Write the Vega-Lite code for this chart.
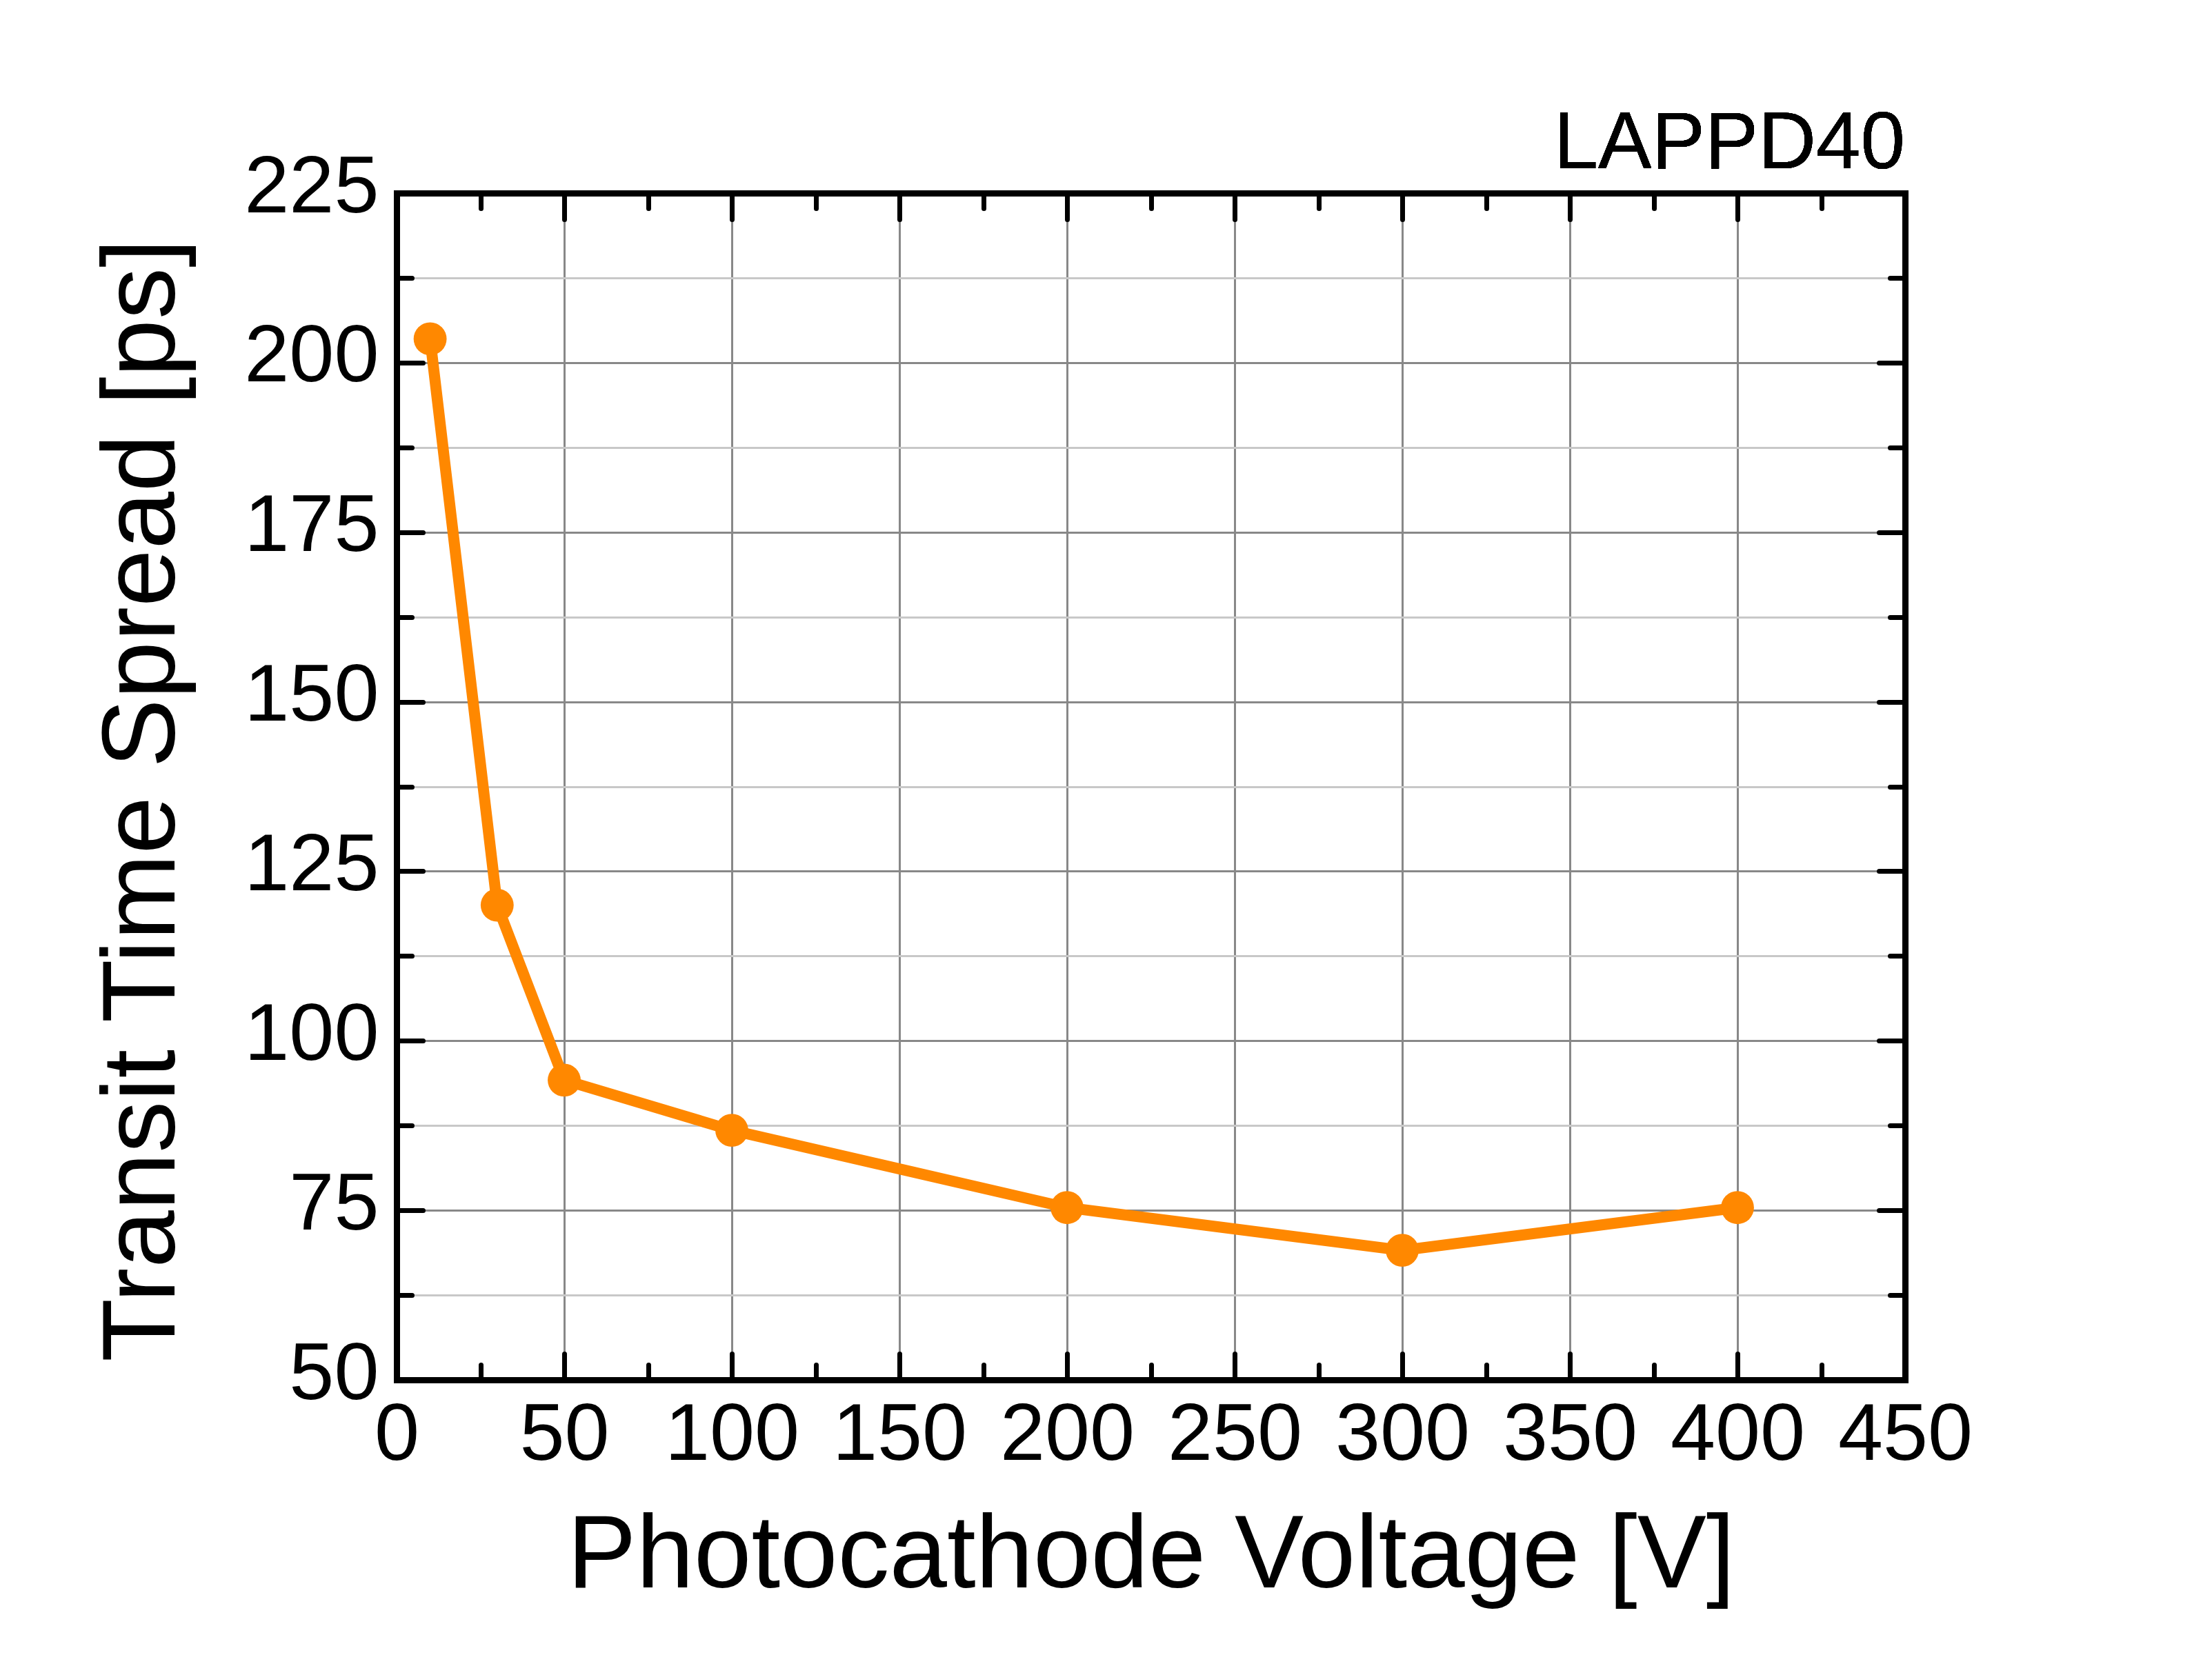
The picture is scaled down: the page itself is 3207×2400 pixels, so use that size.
{
  "$schema": "https://vega.github.io/schema/vega-lite/v6.json",
  "width": 2187,
  "height": 1721,
  "autosize": "none",
  "padding": {"left": 575, "top": 280, "right": 445, "bottom": 399},
  "background": "white",
  "config": {
    "view": {"stroke": null},
    "font": "Liberation Sans"
  },
  "data": {
    "values": [
      {"voltage": 10, "tts": 203.5},
      {"voltage": 30, "tts": 120},
      {"voltage": 50, "tts": 94.2},
      {"voltage": 100, "tts": 86.8},
      {"voltage": 200, "tts": 75.4},
      {"voltage": 300, "tts": 69.1},
      {"voltage": 400, "tts": 75.4}
    ]
  },
  "layer": [
    {
      "mark": {"type": "line", "color": "#FF8800", "strokeWidth": 16},
      "encoding": {
        "x": {
          "field": "voltage",
          "type": "quantitative",
          "scale": {"domain": [0, 450], "nice": false, "zero": false},
          "axis": {
            "orient": "bottom",
            "values": [0, 25, 50, 75, 100, 125, 150, 175, 200, 225, 250, 275, 300, 325, 350, 375, 400, 425, 450],
            "title": "Photocathode Voltage [V]",
            "titleFont": "Liberation Sans",
            "titleFontSize": 150,
            "titleFontWeight": "normal",
            "titleColor": "black",
            "titleBaseline": "alphabetic",
            "titleAlign": "center",
            "titleX": 1093.5,
            "titleY": 300,
            "labelExpr": "datum.value % 50 == 0 ? datum.label : ''",
            "labelFont": "Liberation Sans",
            "labelFontSize": 117,
            "labelColor": "black",
            "labelPadding": 61,
            "labelLimit": 0,
            "labelOverlap": false,
            "labelFlush": false,
            "domainColor": "black",
            "domainWidth": 9,
            "domainCap": "square",
            "tickColor": "black",
            "tickWidth": 7,
            "tickCap": "round",
            "tickSize": {"condition": {"test": "datum.value % 50 == 0", "value": -38}, "value": -22},
            "grid": true,
            "gridColor": "#888888",
            "gridWidth": 3,
            "gridOpacity": {"condition": {"test": "datum.value % 50 == 0", "value": 1}, "value": 0}
          }
        },
        "y": {
          "field": "tts",
          "type": "quantitative",
          "scale": {"domain": [50, 225], "nice": false, "zero": false},
          "axis": {
            "orient": "left",
            "values": [50, 62.5, 75, 87.5, 100, 112.5, 125, 137.5, 150, 162.5, 175, 187.5, 200, 212.5, 225],
            "title": "Transit Time Spread [ps]",
            "titleFont": "Liberation Sans",
            "titleFontSize": 150,
            "titleFontWeight": "normal",
            "titleColor": "black",
            "titleAngle": -90,
            "titleBaseline": "alphabetic",
            "titleAlign": "center",
            "titleX": -323,
            "titleY": 880,
            "labelExpr": "datum.value % 25 == 0 ? datum.label : ''",
            "labelFont": "Liberation Sans",
            "labelFontSize": 117,
            "labelColor": "black",
            "labelPadding": 64,
            "labelOffset": -8,
            "labelLimit": 0,
            "labelOverlap": false,
            "labelFlush": false,
            "domainColor": "black",
            "domainWidth": 9,
            "domainCap": "square",
            "tickColor": "black",
            "tickWidth": 7,
            "tickCap": "round",
            "tickSize": {"condition": {"test": "datum.value % 25 == 0", "value": -38}, "value": -22},
            "grid": true,
            "gridWidth": 3,
            "gridColor": {"condition": {"test": "datum.value % 25 == 0", "value": "#888888"}, "value": "#c8c8c8"}
          }
        }
      }
    },
    {
      "mark": {"type": "point", "filled": true, "color": "#FF8800", "size": 2290, "opacity": 1},
      "encoding": {
        "x": {
          "field": "voltage",
          "type": "quantitative",
          "axis": {
            "orient": "top",
            "values": [0, 25, 50, 75, 100, 125, 150, 175, 200, 225, 250, 275, 300, 325, 350, 375, 400, 425, 450],
            "title": null,
            "labels": false,
            "grid": false,
            "domainColor": "black",
            "domainWidth": 9,
            "domainCap": "square",
            "tickColor": "black",
            "tickWidth": 7,
            "tickCap": "round",
            "tickSize": {"condition": {"test": "datum.value % 50 == 0", "value": -38}, "value": -22}
          }
        },
        "y": {
          "field": "tts",
          "type": "quantitative",
          "axis": {
            "orient": "right",
            "values": [50, 62.5, 75, 87.5, 100, 112.5, 125, 137.5, 150, 162.5, 175, 187.5, 200, 212.5, 225],
            "title": null,
            "labels": false,
            "grid": false,
            "domainColor": "black",
            "domainWidth": 9,
            "domainCap": "square",
            "tickColor": "black",
            "tickWidth": 7,
            "tickCap": "round",
            "tickSize": {"condition": {"test": "datum.value % 25 == 0", "value": -38}, "value": -22}
          }
        }
      }
    },
    {
      "mark": {
        "type": "text",
        "text": "LAPPD40",
        "font": "Liberation Sans",
        "fontSize": 116,
        "color": "black",
        "align": "right",
        "baseline": "alphabetic",
        "dx": 0,
        "dy": -36
      },
      "encoding": {
        "x": {"datum": 450, "type": "quantitative", "axis": null},
        "y": {"datum": 225, "type": "quantitative", "axis": null}
      }
    }
  ],
  "resolve": {"axis": {"x": "independent", "y": "independent"}}
}
